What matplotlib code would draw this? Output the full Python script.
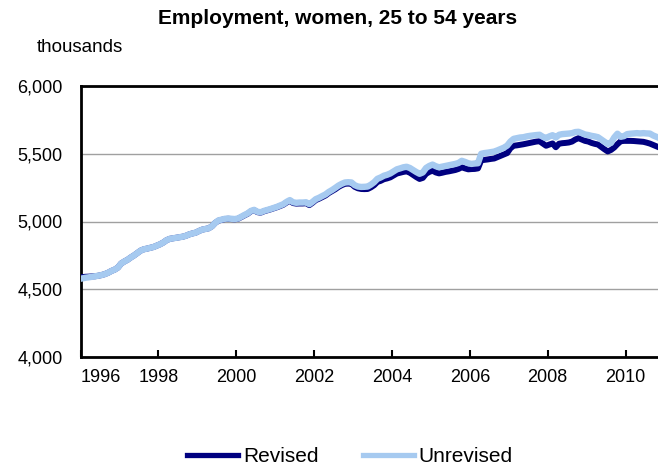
import matplotlib
matplotlib.use("Agg")
import matplotlib.pyplot as plt
from matplotlib.lines import Line2D

plt.rcParams['font.family'] = ['Liberation Sans', 'DejaVu Sans']

start_year = 1996
tick_years = [1996, 1998, 2000, 2002, 2004, 2006, 2008, 2010]
y_ticks = [4000, 4500, 5000, 5500, 6000]

# Monthly values, Jan 1996 - Oct 2010 (thousands)
unrevised = [
    4580, 4585, 4588, 4592, 4596, 4600, 4605, 4612, 4622, 4635, 4645, 4660,  # 1996
    4690, 4705, 4718, 4735, 4750, 4768, 4785, 4795, 4800, 4806, 4812, 4822,  # 1997
    4832, 4845, 4862, 4872, 4876, 4880, 4884, 4888, 4895, 4905, 4912, 4918,  # 1998
    4930, 4940, 4945, 4950, 4965, 4990, 5008, 5014, 5020, 5022, 5020, 5018,  # 1999
    5022, 5035, 5048, 5060, 5078, 5086, 5072, 5068, 5078, 5085, 5092, 5100,  # 2000
    5108, 5118, 5128, 5145, 5158, 5142, 5138, 5140, 5140, 5142, 5128, 5145,  # 2001
    5165, 5175, 5188, 5200, 5218, 5232, 5248, 5265, 5278, 5288, 5290, 5288,  # 2002
    5268, 5258, 5255, 5256, 5258, 5272, 5290, 5315, 5325, 5338, 5345, 5355,  # 2003
    5370, 5385, 5392, 5400, 5404, 5395, 5380, 5365, 5352, 5362, 5395, 5410,  # 2004
    5420, 5408, 5400, 5405, 5410, 5415, 5420, 5425, 5432, 5448, 5440, 5430,  # 2005
    5425, 5428, 5430, 5500, 5505, 5508, 5512, 5516, 5525, 5535, 5545, 5560,  # 2006
    5590, 5610, 5615, 5620, 5622, 5628, 5632, 5635, 5638, 5640, 5625, 5615,  # 2007
    5628, 5637, 5620, 5640, 5645, 5647, 5649, 5652, 5660, 5662, 5652, 5642,  # 2008
    5638, 5632, 5628, 5622, 5605, 5588, 5572, 5580, 5620, 5648, 5625, 5630,  # 2009
    5645, 5648, 5650, 5652, 5650, 5652, 5650, 5649, 5635, 5625,              # 2010
]

revised = [
    4590, 4592, 4593, 4595, 4596, 4600, 4605, 4612, 4622, 4635, 4645, 4660,  # 1996
    4690, 4705, 4718, 4735, 4750, 4768, 4785, 4795, 4800, 4806, 4812, 4822,  # 1997
    4832, 4845, 4862, 4872, 4876, 4880, 4884, 4888, 4895, 4905, 4912, 4918,  # 1998
    4930, 4940, 4945, 4950, 4965, 4990, 5006, 5012, 5018, 5020, 5018, 5016,  # 1999
    5020, 5032, 5045, 5057, 5075, 5083, 5069, 5065, 5075, 5082, 5089, 5097,  # 2000
    5105, 5114, 5124, 5140, 5153, 5136, 5132, 5133, 5133, 5135, 5121, 5138,  # 2001
    5158, 5168, 5180, 5192, 5210, 5224, 5238, 5255, 5268, 5278, 5280, 5277,  # 2002
    5256, 5245, 5240, 5239, 5240, 5252, 5268, 5292, 5300, 5312, 5318, 5326,  # 2003
    5340, 5354, 5360, 5366, 5370, 5360, 5344, 5328, 5314, 5322, 5352, 5366,  # 2004
    5375, 5362, 5355, 5360, 5366, 5370, 5375, 5380, 5388, 5400, 5392, 5385,  # 2005
    5387, 5388, 5392, 5452, 5455, 5458, 5462, 5465, 5475, 5485, 5495, 5505,  # 2006
    5540, 5559, 5562, 5566, 5570, 5575, 5580, 5585, 5590, 5592, 5575, 5559,  # 2007
    5568, 5576, 5548, 5574, 5578, 5580, 5583, 5590, 5605, 5615, 5605, 5595,  # 2008
    5590, 5580, 5573, 5568, 5550, 5533, 5517, 5528, 5546, 5571, 5592, 5595,  # 2009
    5595, 5595, 5594, 5592, 5590, 5588, 5582, 5575, 5565, 5555,              # 2010
]

n = len(unrevised)
t = [start_year + (i + 0.5) / 12 for i in range(n)]

W, H = 658, 471
fig = plt.figure(figsize=(W / 100, H / 100), dpi=100)
ax = fig.add_axes([80.6 / W, 1 - 357 / H, (658 - 80.6) / W, (357 - 86) / H])

ax.plot(t, revised, color='#000080', lw=4.3, solid_joinstyle='round', zorder=3)
ax.plot(t, unrevised, color='#A6CAF0', lw=4.6, solid_joinstyle='round', zorder=4)

ax.set_xlim(start_year, start_year + n / 12)
ax.set_ylim(4000, 6000)
ax.set_yticks(y_ticks)
ax.set_yticklabels([f"{v:,}" for v in y_ticks], fontsize=13)
ax.set_xticks(tick_years)
ax.set_xticklabels([str(y) for y in tick_years], fontsize=13)
ax.get_xticklabels()[0].set_horizontalalignment('left')

ax.grid(axis='y', color='#a0a0a0', lw=1.0, zorder=0)
ax.tick_params(axis='y', length=0, pad=13)
ax.tick_params(axis='x', direction='in', length=5, width=1.5, pad=9)
for s in ['left', 'bottom', 'top']:
    ax.spines[s].set_linewidth(2.0)
    ax.spines[s].set_color('black')
ax.spines['right'].set_visible(False)

fig.text(338 / W, 1 - 18 / H, "Employment, women, 25 to 54 years",
         ha='center', va='center', fontsize=15, fontweight='bold')
fig.text(37 / W, 1 - 47 / H, "thousands", ha='left', va='center', fontsize=13.5)

handles = [Line2D([], [], color='#000080', lw=3.8),
           Line2D([], [], color='#A6CAF0', lw=3.8)]
fig.legend(handles, ['Revised', 'Unrevised'], loc='center',
           bbox_to_anchor=(350 / W, 1 - 457 / H), ncol=2, frameon=False,
           fontsize=15, handlelength=2.45, handletextpad=0.25, columnspacing=2.1)

fig.savefig('out.png', dpi=100)
